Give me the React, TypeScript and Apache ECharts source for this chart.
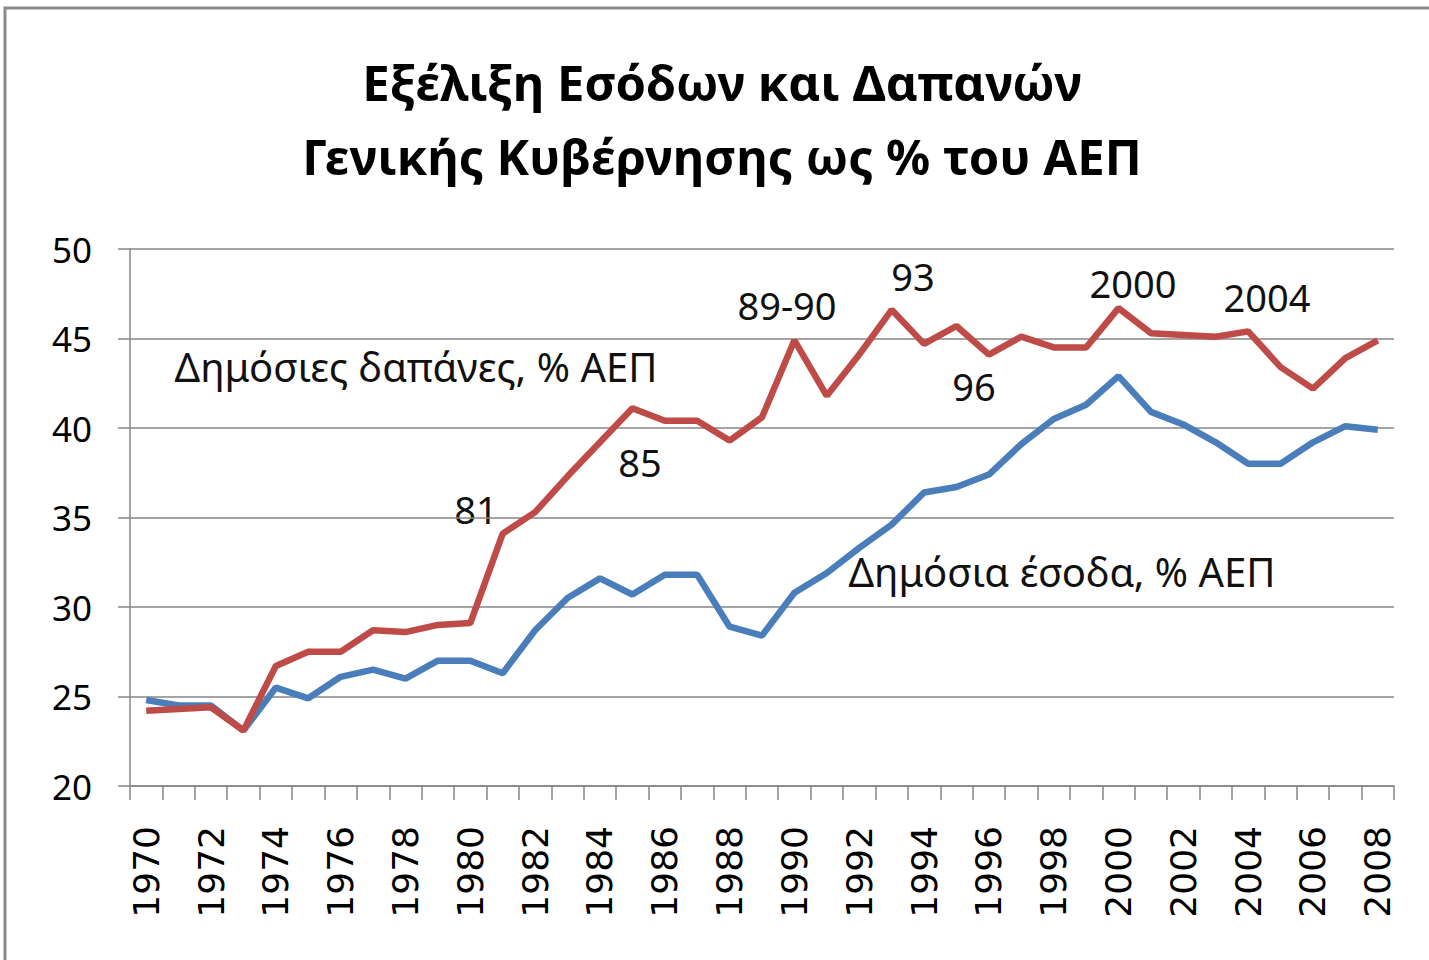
import React, { useEffect, useRef } from "react";
import * as echarts from "echarts";

const years: string[] = [
  "1970","1971","1972","1973","1974","1975","1976","1977","1978","1979",
  "1980","1981","1982","1983","1984","1985","1986","1987","1988","1989",
  "1990","1991","1992","1993","1994","1995","1996","1997","1998","1999",
  "2000","2001","2002","2003","2004","2005","2006","2007","2008",
];

// Δημόσιες δαπάνες, % ΑΕΠ
const expenditure: number[] = [
  24.2, 24.3, 24.4, 23.1, 26.7, 27.5, 27.5, 28.7, 28.6, 29.0,
  29.1, 34.1, 35.3, 37.3, 39.2, 41.1, 40.4, 40.4, 39.3, 40.6,
  44.9, 41.8, 44.1, 46.6, 44.7, 45.7, 44.1, 45.1, 44.5, 44.5,
  46.7, 45.3, 45.2, 45.1, 45.4, 43.4, 42.2, 43.9, 44.9,
];

// Δημόσια έσοδα, % ΑΕΠ
const revenue: number[] = [
  24.8, 24.5, 24.5, 23.1, 25.5, 24.9, 26.1, 26.5, 26.0, 27.0,
  27.0, 26.3, 28.7, 30.5, 31.6, 30.7, 31.8, 31.8, 28.9, 28.4,
  30.8, 31.9, 33.3, 34.6, 36.4, 36.7, 37.4, 39.1, 40.5, 41.3,
  42.9, 40.9, 40.2, 39.2, 38.0, 38.0, 39.2, 40.1, 39.9,
];

const titleLines: string[] = [
  "Εξέλιξη Εσόδων και Δαπανών",
  "Γενικής Κυβέρνησης ως % του ΑΕΠ",
];

const seriesLabels: string[] = ["Δημόσιες δαπάνες, % ΑΕΠ", "Δημόσια έσοδα, % ΑΕΠ"];
const yearNotes: string[] = ["81", "85", "89-90", "93", "96", "2000", "2004"];

const GRID = "#868686";
const FONT = "'Noto Sans', sans-serif";

export default function App() {
  const ref = useRef<HTMLDivElement>(null);

  useEffect(() => {
    document.body.style.margin = "0";
    if (!ref.current) return;
    const chart = echarts.init(ref.current, undefined, { renderer: "svg" });

    const noteText = (text: string, x: number, y: number, size: number) => ({
      type: "text",
      x,
      y,
      style: {
        text,
        fill: "#111",
        font: `${size}px ${FONT}`,
        textAlign: "center",
        textVerticalAlign: "middle",
      },
    });

    chart.setOption({
      animation: false,
      backgroundColor: "#ffffff",
      grid: { left: 130, right: 35, top: 249, bottom: 174, containLabel: false },
      xAxis: {
        type: "category",
        data: years,
        boundaryGap: true,
        axisLine: { show: true, lineStyle: { color: GRID, width: 1.5 } },
        axisTick: { show: true, interval: 0, length: 14, lineStyle: { color: GRID, width: 1.5 } },
        axisLabel: {
          interval: 1,
          rotate: 90,
          margin: 40,
          color: "#000",
          fontFamily: "'DejaVu Sans', sans-serif",
          fontSize: 36,
        },
        splitLine: { show: false },
      },
      yAxis: {
        type: "value",
        min: 20,
        max: 50,
        interval: 5,
        axisLine: { show: true, lineStyle: { color: GRID, width: 1.5 } },
        axisTick: { show: true, length: 12, lineStyle: { color: GRID, width: 1.5 } },
        axisLabel: { margin: 38, color: "#000", fontFamily: FONT, fontSize: 35 },
        splitLine: { show: true, lineStyle: { color: GRID, width: 1.5 } },
      },
      series: [
        {
          name: seriesLabels[1],
          type: "line",
          data: revenue,
          symbol: "none",
          lineStyle: { color: "#4A7EBB", width: 6.5 },
          itemStyle: { color: "#4A7EBB" },
        },
        {
          name: seriesLabels[0],
          type: "line",
          data: expenditure,
          symbol: "none",
          lineStyle: { color: "#BE4B48", width: 6.5 },
          itemStyle: { color: "#BE4B48" },
        },
      ],
      graphic: [
        {
          type: "rect",
          shape: { x: 5, y: 8, width: 1440, height: 980 },
          style: { fill: "none", stroke: "#8a8a8a", lineWidth: 3 },
          silent: true,
        },
        {
          type: "text",
          x: 722,
          y: 82,
          style: {
            text: titleLines[0],
            fill: "#000",
            font: `bold 49px ${FONT}`,
            textAlign: "center",
            textVerticalAlign: "middle",
          },
        },
        {
          type: "text",
          x: 722,
          y: 156,
          style: {
            text: titleLines[1],
            fill: "#000",
            font: `bold 49px ${FONT}`,
            textAlign: "center",
            textVerticalAlign: "middle",
          },
        },
        noteText(seriesLabels[0], 416, 366, 40),
        noteText(seriesLabels[1], 1062, 571, 40),
        noteText(yearNotes[0], 476, 509, 38),
        noteText(yearNotes[1], 640, 462, 38),
        noteText(yearNotes[2], 787, 305, 38),
        noteText(yearNotes[3], 913, 276, 38),
        noteText(yearNotes[4], 974, 386, 38),
        noteText(yearNotes[5], 1133, 283, 38),
        noteText(yearNotes[6], 1267, 297, 38),
      ],
    });

    return () => chart.dispose();
  }, []);

  return (
    <div
      ref={ref}
      style={{ position: "absolute", left: 0, top: 0, width: 1429, height: 960 }}
    />
  );
}
